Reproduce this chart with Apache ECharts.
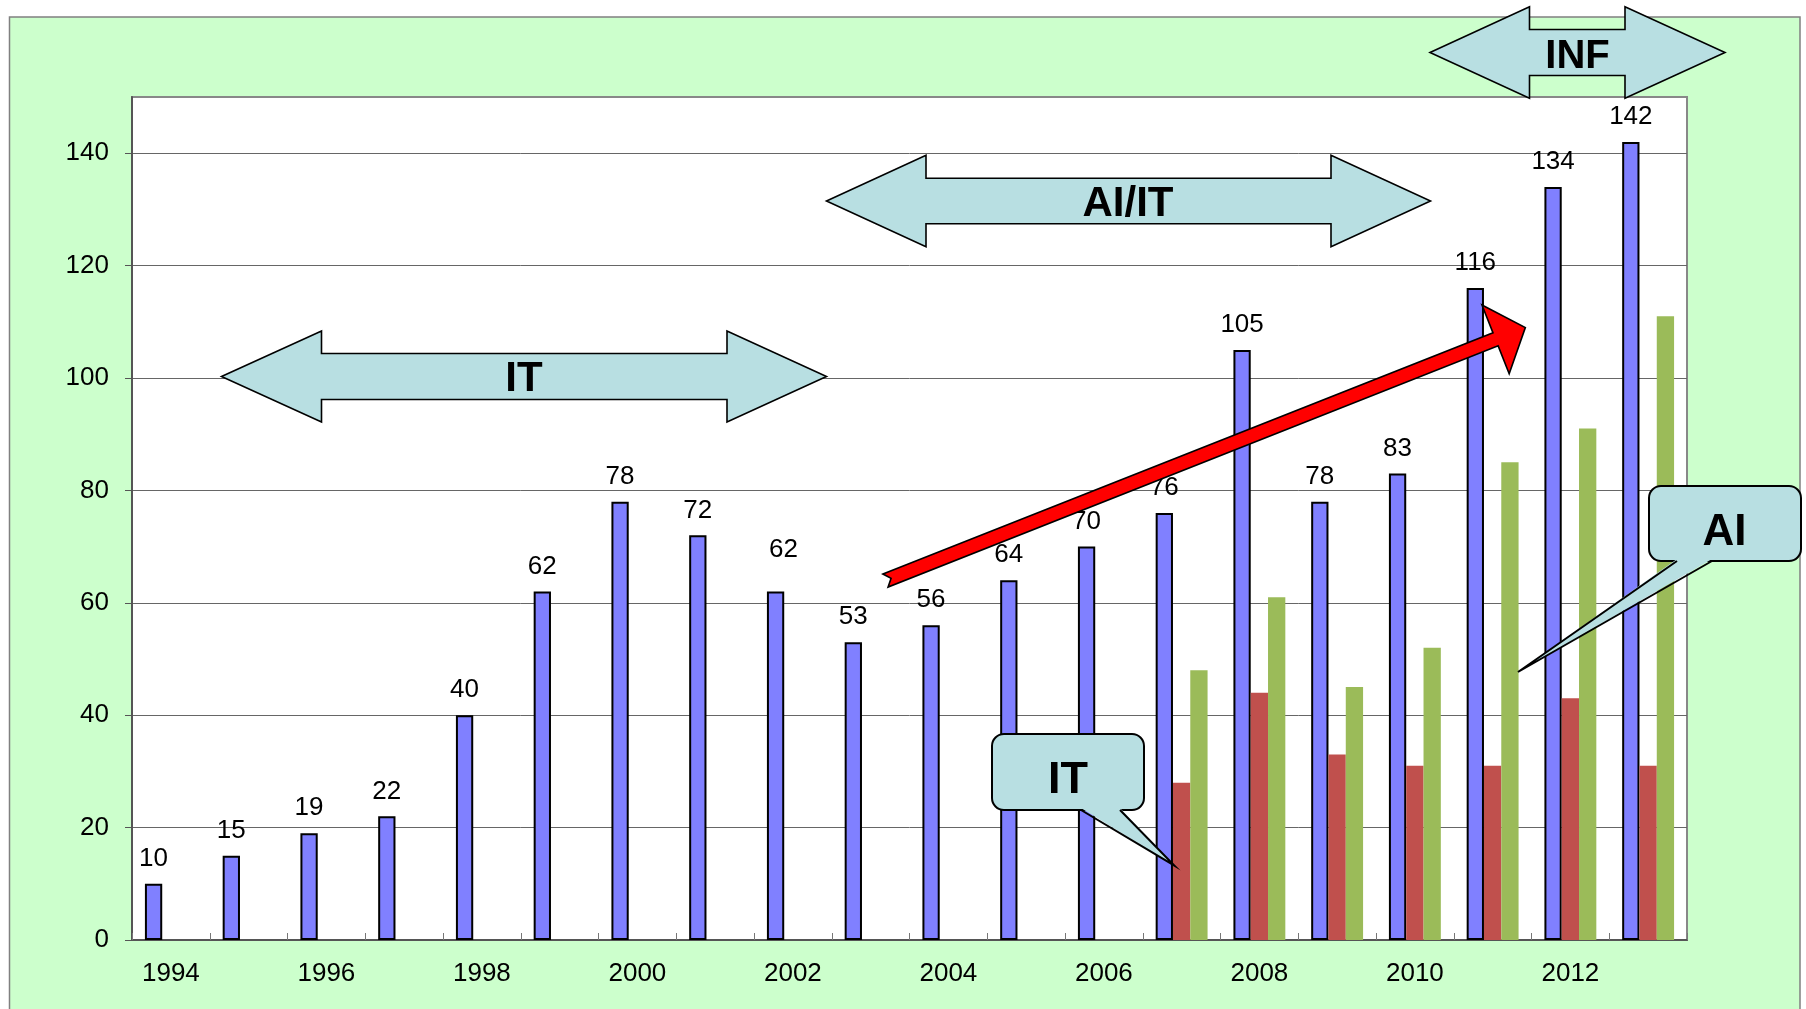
<!DOCTYPE html>
<html><head><meta charset="utf-8">
<script src="https://cdn.jsdelivr.net/npm/echarts@6/dist/echarts.min.js"></script>
<style>html,body{margin:0;padding:0;background:#fff;}#c{width:1806px;height:1009px;}</style>
</head><body><div id="c"></div>
<script>
const years = ['1994','1995','1996','1997','1998','1999','2000','2001','2002','2003','2004','2005','2006','2007','2008','2009','2010','2011','2012','2013'];
const totalValues = [10,15,19,22,40,62,78,72,62,53,56,64,70,76,105,78,83,116,134,142];
const itValues = [null,null,null,null,null,null,null,null,null,null,null,null,null,28,44,33,31,31,43,31];
const aiValues = [null,null,null,null,null,null,null,null,null,null,null,null,null,48,61,45,52,85,91,111];
const yTickValues = [0,20,40,60,80,100,120,140];
const xTickLabels = ['1994','1996','1998','2000','2002','2004','2006','2008','2010','2012'];

const FONT = '"Liberation Sans", Arial, sans-serif';
const TEAL = '#B8DFE2';

function dblArrow(xL, xLi, xRi, xR, yc, hh, sh) {
  return [[xL,yc],[xLi,yc-hh],[xLi,yc-sh],[xRi,yc-sh],[xRi,yc-hh],[xR,yc],[xRi,yc+hh],[xRi,yc+sh],[xLi,yc+sh],[xLi,yc+hh]];
}
function arrowEl(pts, label, tx, ty, fs) {
  return [
    {type:'polygon', z:100, shape:{points:pts}, style:{fill:TEAL, stroke:'#000', lineWidth:1.6}},
    {type:'text', z:101, style:{text:label, x:tx, y:ty, align:'center', verticalAlign:'middle', fontSize:fs, fontWeight:'bold', fontFamily:FONT, fill:'#000'}}
  ];
}
function callout(x, y, w, h, bl, br, tipX, tipY, label, tx, ty, fs) {
  const by = y + h;
  return [
    {type:'rect', z:100, shape:{x:x, y:y, width:w, height:h, r:12}, style:{fill:TEAL, stroke:'#000', lineWidth:2}},
    {type:'polygon', z:101, shape:{points:[[bl,by-2],[br,by-2],[tipX,tipY]]}, style:{fill:TEAL}},
    {type:'polyline', z:102, shape:{points:[[bl,by],[tipX,tipY],[br,by]]}, style:{fill:null, stroke:'#000', lineWidth:2}},
    {type:'text', z:103, style:{text:label, x:tx, y:ty, align:'center', verticalAlign:'middle', fontSize:fs, fontWeight:'bold', fontFamily:FONT, fill:'#000'}}
  ];
}

// red trend arrow geometry
const ux = 0.930, uy = -0.3676, nx = 0.3676, ny = 0.930;
const c0 = [885.5, 580.5];
const hc = [c0[0] + 656*ux, c0[1] + 656*uy];
const sw = 7, hw = 37, tipLen = 32;
const redPts = [
  [c0[0]-sw*nx, c0[1]-sw*ny],
  [hc[0]-sw*nx, hc[1]-sw*ny],
  [hc[0]-hw*nx, hc[1]-hw*ny],
  [hc[0]+tipLen*ux, hc[1]+tipLen*uy],
  [hc[0]+hw*nx, hc[1]+hw*ny],
  [hc[0]+sw*nx, hc[1]+sw*ny],
  [c0[0]+sw*nx, c0[1]+sw*ny],
  [c0[0]+6*ux, c0[1]+6*uy]
];

const graphics = [
  {type:'rect', z:-100, shape:{x:9.5, y:17, width:1790.5, height:1100}, style:{fill:'#CCFFCC', stroke:'#808080', lineWidth:1.5}}
].concat(
  arrowEl(dblArrow(221.5, 321.5, 727, 826.5, 376.5, 45.5, 23), 'IT', 524, 379.5, 42),
  arrowEl(dblArrow(826.5, 926, 1331, 1430.5, 201, 45.7, 22.7), 'AI/IT', 1128, 204, 42),
  arrowEl(dblArrow(1430, 1529.5, 1625, 1725, 52.5, 45.8, 23), 'INF', 1577.5, 56.5, 40),
  [{type:'polygon', z:100, shape:{points:redPts}, style:{fill:'#FF0000', stroke:'#000', lineWidth:1.6}}],
  callout(992, 734, 152, 76, 1081, 1120, 1174.5, 865.7, 'IT', 1068, 780.5, 45),
  callout(1649, 486, 152, 75, 1677, 1712, 1518, 672, 'AI', 1724.5, 533, 44)
);

const totalData = totalValues.map((v, i) => years[i] === '2002' ? {value: v, label: {offset: [8, -17]}} : v);

const chart = echarts.init(document.getElementById('c'), null, {renderer:'canvas'});
chart.setOption({
  animation: false,
  backgroundColor: 'transparent',
  textStyle: {fontFamily: FONT},
  grid: {left:132, top:97, right:119, bottom:69, show:true, backgroundColor:'#fff', borderColor:'#888', borderWidth:2, containLabel:false, outerBoundsMode:'none'},
  xAxis: {
    type:'category', data:years, boundaryGap:true,
    axisLine:{show:true, lineStyle:{color:'#555', width:2}},
    axisTick:{show:true, inside:true, length:7, interval:0, alignWithLabel:false, lineStyle:{color:'#777', width:1}},
    axisLabel:{show:true, interval:(i, v) => xTickLabels.includes(v), margin:21, fontSize:26, color:'#000', fontFamily:FONT},
    splitLine:{show:false}
  },
  yAxis: {
    type:'value', min:0, max:150,
    axisLine:{show:true, lineStyle:{color:'#555', width:2}},
    axisTick:{show:true, inside:false, length:7, customValues:yTickValues, lineStyle:{color:'#555', width:1}},
    axisLabel:{show:true, customValues:yTickValues, margin:23, fontSize:26, color:'#000', fontFamily:FONT},
    splitLine:{show:true, lineStyle:{color:'#666', width:1}}
  },
  series: [
    {type:'bar', name:'Total', data:totalData, barWidth:17.3, barGap:'0%',
     itemStyle:{color:'#8080FF', borderColor:'#000', borderWidth:2},
     label:{show:true, position:'top', distance:12, fontSize:26, color:'#000', fontFamily:FONT}},
    {type:'bar', name:'IT', data:itValues, barWidth:17.3, barGap:'0%', itemStyle:{color:'#C0504D'}},
    {type:'bar', name:'AI', data:aiValues, barWidth:17.3, barGap:'0%', itemStyle:{color:'#9BBB59'}}
  ],
  graphic: graphics
});
</script>
</body></html>
